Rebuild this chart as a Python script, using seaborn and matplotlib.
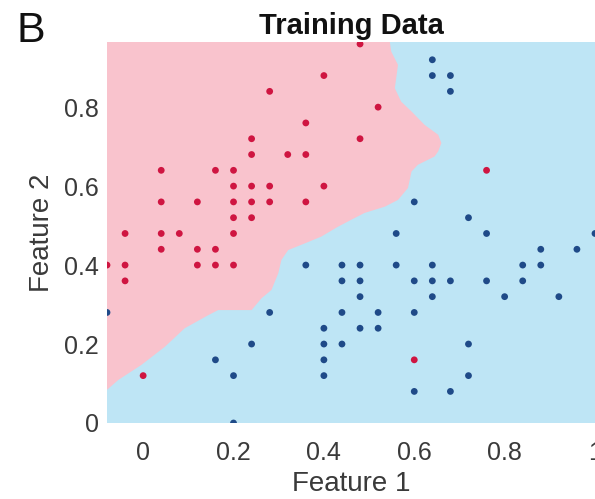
import numpy as np
import pandas as pd
import matplotlib
matplotlib.use("Agg")
import matplotlib.pyplot as plt
import seaborn as sns

# ---- data ----
red_x = [0.40, 0.28, 0.36, 0.24, 0.24, 0.32, 0.36, 0.04, 0.16, 0.20, 0.20, 0.24, 0.28, 0.40,
         0.04, 0.12, 0.20, 0.24, 0.28, 0.36, 0.20, 0.24, -0.04, 0.04, 0.08, 0.20, 0.04, 0.12,
         0.16, -0.08, -0.04, 0.12, 0.16, 0.20, -0.04, 0.00, 0.48, 0.52, 0.48, 0.76, 0.60]
red_y = [0.88, 0.84, 0.76, 0.72, 0.68, 0.68, 0.68, 0.64, 0.64, 0.64, 0.60, 0.60, 0.60, 0.60,
         0.56, 0.56, 0.56, 0.56, 0.56, 0.56, 0.52, 0.52, 0.48, 0.48, 0.48, 0.48, 0.44, 0.44,
         0.44, 0.40, 0.40, 0.40, 0.40, 0.40, 0.36, 0.12, 0.96, 0.80, 0.72, 0.64, 0.16]

blue_x = [0.64, 0.64, 0.68, 0.68, 0.60, 0.72, 0.56, 0.76, 1.00, 0.88, 0.96,
          0.36, 0.44, 0.48, 0.56, 0.64, 0.84, 0.88,
          0.44, 0.48, 0.60, 0.64, 0.68, 0.76, 0.84,
          0.48, 0.64, 0.80, 0.92,
          -0.08, 0.28, 0.44, 0.52, 0.60,
          0.40, 0.48, 0.52,
          0.24, 0.40, 0.44, 0.72,
          0.16, 0.40,
          0.20, 0.40, 0.72,
          0.60, 0.68,
          0.20]
blue_y = [0.92, 0.88, 0.88, 0.84, 0.56, 0.52, 0.48, 0.48, 0.48, 0.44, 0.44,
          0.40, 0.40, 0.40, 0.40, 0.40, 0.40, 0.40,
          0.36, 0.36, 0.36, 0.36, 0.36, 0.36, 0.36,
          0.32, 0.32, 0.32, 0.32,
          0.28, 0.28, 0.28, 0.28, 0.28,
          0.24, 0.24, 0.24,
          0.20, 0.20, 0.20, 0.20,
          0.16, 0.16,
          0.12, 0.12, 0.12,
          0.08, 0.08,
          0.00]

# decision boundary of the red region
boundary_x = [-0.08, -0.055, -0.004, 0.048, 0.092, 0.144, 0.166, 0.24, 0.262, 0.284, 0.299,
              0.306, 0.321, 0.358, 0.394, 0.431, 0.461, 0.49, 0.535, 0.564, 0.586, 0.594,
              0.608, 0.645, 0.653, 0.66, 0.653, 0.623, 0.594, 0.571, 0.557, 0.56, 0.564,
              0.549, 0.546]
boundary_y = [0.084, 0.109, 0.147, 0.193, 0.24, 0.273, 0.286, 0.286, 0.316, 0.337, 0.379,
              0.413, 0.438, 0.455, 0.472, 0.497, 0.515, 0.532, 0.548, 0.565, 0.595, 0.637,
              0.654, 0.675, 0.688, 0.709, 0.730, 0.755, 0.789, 0.814, 0.848, 0.873, 0.907,
              0.941, 0.965]

x_ticks = [0, 0.2, 0.4, 0.6, 0.8, 1]
x_tick_labels = ["0", "0.2", "0.4", "0.6", "0.8", "1"]
y_ticks = [0, 0.2, 0.4, 0.6, 0.8]
y_tick_labels = ["0", "0.2", "0.4", "0.6", "0.8"]

# ---- styling ----
sns.set_theme(style="white")
plt.rcParams["font.family"] = ["Liberation Sans", "DejaVu Sans"]

PINK = "#F9C3CD"
LIGHTBLUE = "#BEE5F5"
RED = "#CF1541"
NAVY = "#1F4A88"
TEXT = "#3a3a3a"

df = pd.DataFrame({
    "Feature 1": red_x + blue_x,
    "Feature 2": red_y + blue_y,
    "cls": ["red"] * len(red_x) + ["blue"] * len(blue_x),
})

fig = plt.figure(figsize=(5.95, 4.99), dpi=100)
ax = fig.add_axes([107 / 595, 76 / 499, 488 / 595, 381 / 499])
ax.set_facecolor(LIGHTBLUE)

xmin, xmax, ymin, ymax = -0.08, 1.0, 0.0, 0.965
ext = 0.05
poly_x = list(boundary_x) + [boundary_x[-1], xmin - ext, xmin - ext]
poly_y = list(boundary_y) + [ymax + ext, ymax + ext, boundary_y[0]]
ax.fill(poly_x, poly_y, color=PINK, lw=0, zorder=1)

sns.scatterplot(data=df, x="Feature 1", y="Feature 2", hue="cls",
                palette={"red": RED, "blue": NAVY}, s=24, linewidth=0,
                legend=False, ax=ax, zorder=3, clip_on=True)

ax.set_xlim(xmin, xmax)
ax.set_ylim(ymin, ymax)
ax.set_xticks(x_ticks)
ax.set_xticklabels(x_tick_labels)
ax.set_yticks(y_ticks)
ax.set_yticklabels(y_tick_labels)
ax.tick_params(axis="both", length=0, labelsize=18, colors=TEXT)
ax.tick_params(axis="x", pad=13)
ax.tick_params(axis="y", pad=6)
for s in ax.spines.values():
    s.set_visible(False)

ax.set_xlabel("Feature 1", fontsize=20, color=TEXT, labelpad=4)
ax.set_ylabel("Feature 2", fontsize=20, color=TEXT, labelpad=6)
ax.set_title("Training Data", fontsize=21, fontweight="bold", color="#111111", pad=6)

fig.text(17 / 595, 1 - 42 / 499, "B", fontsize=31, color="#111111", ha="left", va="baseline")

fig.savefig("out.png", dpi=100)
